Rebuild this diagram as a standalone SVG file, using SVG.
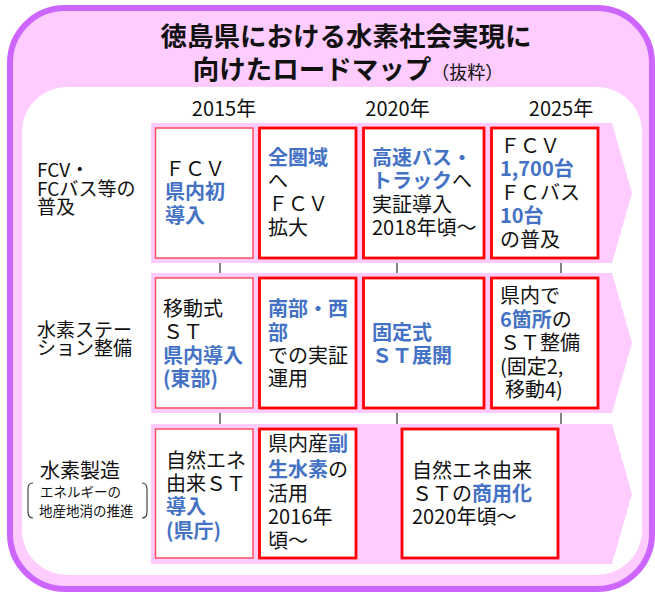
<svg xmlns="http://www.w3.org/2000/svg" width="655" height="592" viewBox="0 0 655 592">
<defs>
<style>
text{font-family:"Noto Sans CJK JP","Noto Sans",sans-serif;fill:#111;}
.t{font-size:20px;}
.lab{font-size:19px;}
.b{fill:#4472C4;font-weight:bold;}
.band{fill:#FFCCFF;}
.box1{fill:#fff;stroke:#FF4D5E;stroke-width:1.5;}
.box{fill:#fff;stroke:#FF0000;stroke-width:2.8;}
.tick{stroke:#333;stroke-width:1.2;}
.br{fill:none;stroke:#333;stroke-width:1.1;}
.yr{font-family:"Noto Sans CJK JP",sans-serif;font-size:20px;}
</style>
</defs>
<g id="frame">
<rect x="10" y="8" width="642" height="581" rx="55" fill="#FFCCFF" stroke="#CC66FF" stroke-width="6"/>
<rect x="22" y="87" width="620" height="488" rx="45" fill="#fff"/>
</g>
<g id="title">
<text x="346" y="45.5" text-anchor="middle" font-size="26.5" font-weight="bold">徳島県における水素社会実現に</text>
<text x="348" y="78.5" text-anchor="middle" font-size="26.5" font-weight="bold">向けたロードマップ<tspan font-size="18" font-weight="normal">（抜粋）</tspan></text>
</g>
<g id="years">
<text x="224" y="116" text-anchor="middle" class="yr">2015年</text>
<text x="397.5" y="116" text-anchor="middle" class="yr">2020年</text>
<text x="561" y="116" text-anchor="middle" class="yr">2025年</text>
</g>
<g id="bands">
<path class="band" d="M151,123 H612 L632,193 L612,263 H151 Z"/>
<path class="band" d="M151,273 H612 L632,343 L612,413 H151 Z"/>
<path class="band" d="M151,424 H612 L632,494 L612,564 H151 Z"/>
</g>
<g id="connectors">
<line class="tick" x1="220" y1="263" x2="220" y2="273"/>
<line class="tick" x1="397" y1="263" x2="397" y2="273"/>
<line class="tick" x1="561" y1="263" x2="561" y2="273"/>
<line class="tick" x1="220" y1="413" x2="220" y2="424"/>
<line class="tick" x1="397" y1="413" x2="397" y2="424"/>
<line class="tick" x1="561" y1="413" x2="561" y2="424"/>
</g>
<g id="label-fcv">
<text class="lab" x="37" y="177">FCV・</text>
<text class="lab" x="37" y="195.5">FCバス等の</text>
<text class="lab" x="37" y="214">普及</text>
</g>
<g id="label-station">
<text class="lab" x="37" y="337">水素ステー</text>
<text class="lab" x="37" y="354.5">ション整備</text>
</g>
<g id="label-production">
<text x="40" y="477.5" font-size="20">水素製造</text>
<path class="br" d="M33,483 Q28,483 28,489 L28,512 Q28,518 33,518"/>
<path class="br" d="M142,483 Q147,483 147,489 L147,512 Q147,518 142,518"/>
<text x="40" y="497" font-size="13.5">エネルギーの</text>
<text x="39" y="515.5" font-size="13.5">地産地消の推進</text>
</g>
<g id="r1c1">
<rect class="box1" x="155.5" y="128" width="97.5" height="130"/>
<text class="t" x="165" y="175.5">ＦＣＶ</text>
<text class="t b" x="165" y="199">県内初</text>
<text class="t b" x="165" y="222.5">導入</text>
</g>
<g id="r1c2">
<rect class="box" x="259.5" y="128" width="96.5" height="130"/>
<text class="t b" x="268" y="164.5">全圏域</text>
<text class="t" x="268" y="187.5">へ</text>
<text class="t" x="268" y="210.5">ＦＣＶ</text>
<text class="t" x="268" y="234.5">拡大</text>
</g>
<g id="r1c3">
<rect class="box" x="363.5" y="128" width="120.5" height="130"/>
<text class="t b" x="372" y="164.5">高速バス・</text>
<text class="t" x="372" y="188"><tspan class="b">トラック</tspan>へ</text>
<text class="t" x="372" y="211.5">実証導入</text>
<text class="t" x="372" y="235">2018年頃～</text>
</g>
<g id="r1c4">
<rect class="box" x="491.5" y="128" width="106.5" height="130"/>
<text class="t" x="500" y="152.5">ＦＣＶ</text>
<text class="t b" x="500" y="176">1,700台</text>
<text class="t" x="500" y="199.5">ＦＣバス</text>
<text class="t b" x="500" y="223">10台</text>
<text class="t" x="500" y="246.5">の普及</text>
</g>
<g id="r2c1">
<rect class="box1" x="155.5" y="278" width="97.5" height="130"/>
<text class="t" x="163" y="315.5">移動式</text>
<text class="t" x="163" y="339">ＳＴ</text>
<text class="t b" x="163" y="362.5">県内導入</text>
<text class="t b" x="163" y="386">(東部)</text>
</g>
<g id="r2c2">
<rect class="box" x="259.5" y="278" width="96.5" height="130"/>
<text class="t b" x="268" y="316">南部・西</text>
<text class="t b" x="268" y="339.5">部</text>
<text class="t" x="268" y="362.5">での実証</text>
<text class="t" x="268" y="386">運用</text>
</g>
<g id="r2c3">
<rect class="box" x="363.5" y="278" width="120.5" height="130"/>
<text class="t b" x="372" y="339.5">固定式</text>
<text class="t b" x="372" y="362.5">ＳＴ展開</text>
</g>
<g id="r2c4">
<rect class="box" x="491.5" y="278" width="106.5" height="130"/>
<text class="t" x="500" y="302.5">県内で</text>
<text class="t" x="500" y="326.5"><tspan class="b">6箇所</tspan>の</text>
<text class="t" x="500" y="350">ＳＴ整備</text>
<text class="t" x="500" y="373.5">(固定2,</text>
<text class="t" x="505" y="397">移動4)</text>
</g>
<g id="r3c1">
<rect class="box1" x="155.5" y="429" width="97.5" height="129"/>
<text class="t" x="166" y="467.5">自然エネ</text>
<text class="t" x="166" y="490.5">由来ＳＴ</text>
<text class="t b" x="166" y="514">導入</text>
<text class="t b" x="166" y="537.5">(県庁)</text>
</g>
<g id="r3c2">
<rect class="box" x="259.5" y="429" width="96.5" height="129"/>
<text class="t" x="268" y="451">県内産<tspan class="b">副</tspan></text>
<text class="t" x="268" y="477"><tspan class="b">生水素</tspan>の</text>
<text class="t" x="268" y="500.5">活用</text>
<text class="t" x="268" y="524">2016年</text>
<text class="t" x="268" y="547.5">頃～</text>
</g>
<g id="r3c3">
<rect class="box" x="402" y="429" width="156" height="129"/>
<text class="t" x="412" y="477.5">自然エネ由来</text>
<text class="t" x="412" y="500.5">ＳＴの<tspan class="b">商用化</tspan></text>
<text class="t" x="412" y="524">2020年頃～</text>
</g>
</svg>
